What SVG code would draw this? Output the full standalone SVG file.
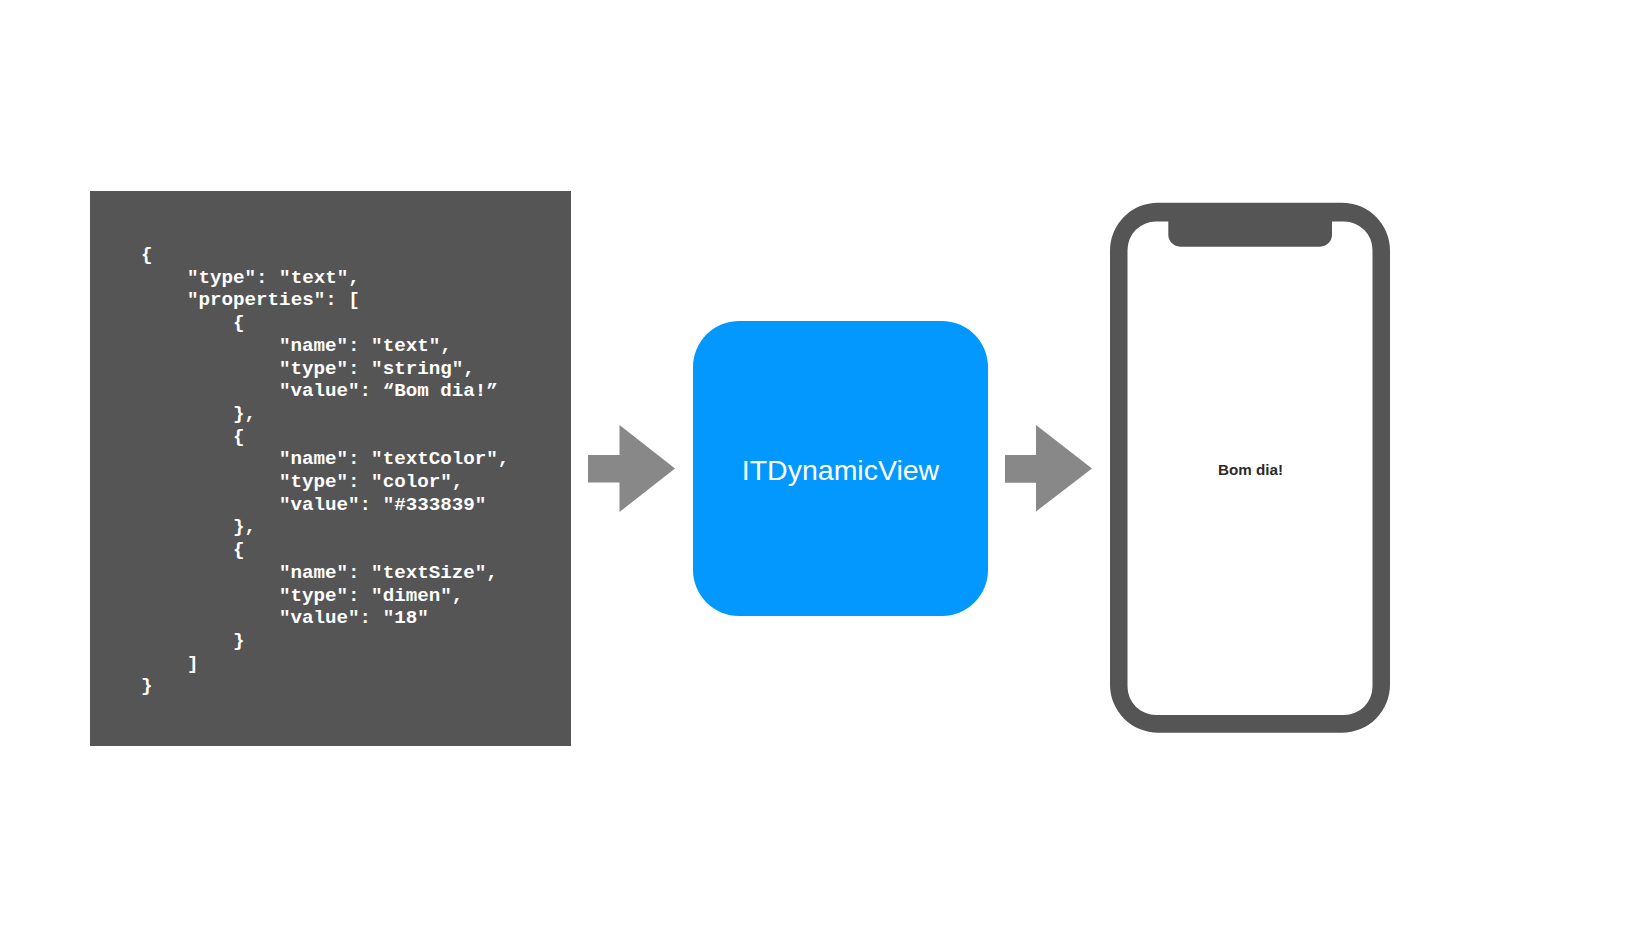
<svg xmlns="http://www.w3.org/2000/svg" width="1652" height="933" viewBox="0 0 1652 933">
<style>
.code{font-family:"Liberation Mono","Courier New",monospace;font-weight:bold;font-size:19.2px;fill:#ffffff}
.arrow{fill:#888888}
.dark{fill:#555555}
</style>
<rect x="0" y="0" width="1652" height="933" fill="#ffffff"/>
<g id="json">
<rect x="90" y="191" width="481" height="555" class="dark"/>
<text class="code">
<tspan x="141" y="260">{</tspan>
<tspan x="187" y="282.7">"type": "text",</tspan>
<tspan x="187" y="305.4">"properties": [</tspan>
<tspan x="233" y="328.1">{</tspan>
<tspan x="279" y="350.8">"name": "text",</tspan>
<tspan x="279" y="373.5">"type": "string",</tspan>
<tspan x="279" y="396.2">"value": “Bom dia!”</tspan>
<tspan x="233" y="418.9">},</tspan>
<tspan x="233" y="441.6">{</tspan>
<tspan x="279" y="464.3">"name": "textColor",</tspan>
<tspan x="279" y="487">"type": "color",</tspan>
<tspan x="279" y="509.7">"value": "#333839"</tspan>
<tspan x="233" y="532.4">},</tspan>
<tspan x="233" y="555.1">{</tspan>
<tspan x="279" y="577.8">"name": "textSize",</tspan>
<tspan x="279" y="600.5">"type": "dimen",</tspan>
<tspan x="279" y="623.2">"value": "18"</tspan>
<tspan x="233" y="645.9">}</tspan>
<tspan x="187" y="668.6">]</tspan>
<tspan x="141" y="691.3">}</tspan>
</text>
</g>
<g id="connectors">
<polygon class="arrow" points="588,455 619.5,455 619.5,425 675,468.5 619.5,512 619.5,482.5 588,482.5"/>
<polygon class="arrow" points="1005,455 1036,455 1036,425 1092,468.5 1036,511.5 1036,482.7 1005,482.7"/>
</g>
<g id="itdynamicview">
<rect x="693" y="321" width="295" height="295" rx="46" ry="46" fill="#0398FE"/>
<text x="840.5" y="480" text-anchor="middle" font-family="'Liberation Sans',Arial,sans-serif" font-size="28.5" fill="#ffffff">ITDynamicView</text>
</g>
<g id="phone">
<path class="dark" fill-rule="evenodd" d="M1158,202.7 H1342 A48,48 0 0 1 1390,250.7 V684.7 A48,48 0 0 1 1342,732.7 H1158 A48,48 0 0 1 1110,684.7 V250.7 A48,48 0 0 1 1158,202.7 Z M1156,221.5 A28.5,28.5 0 0 0 1127.5,250 V686.5 A28.5,28.5 0 0 0 1156,715 H1344 A28.5,28.5 0 0 0 1372.5,686.5 V250 A28.5,28.5 0 0 0 1344,221.5 Z"/>
<path class="dark" d="M1168.3,220.5 H1332 V234.5 A12,12 0 0 1 1320,246.7 H1180.3 A12,12 0 0 1 1168.3,234.5 Z"/>
<text x="1250.5" y="475" text-anchor="middle" font-family="'Liberation Sans',Arial,sans-serif" font-weight="bold" font-size="15.2" fill="#2a2a2a">Bom dia!</text>
</g>
</svg>
